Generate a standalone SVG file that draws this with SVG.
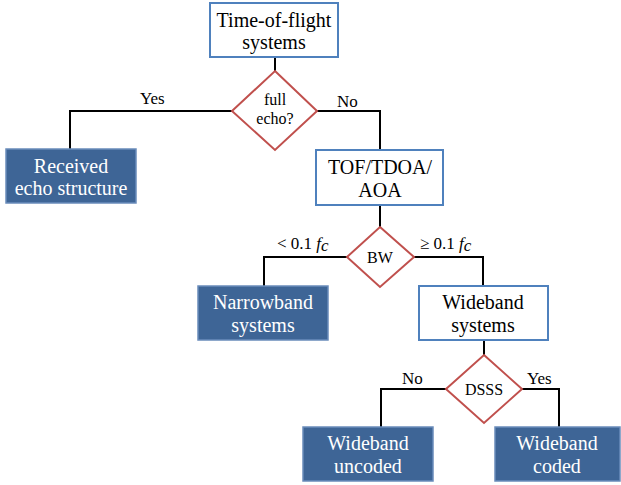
<svg xmlns="http://www.w3.org/2000/svg" width="621" height="485" viewBox="0 0 621 485">
<defs>
<style>
.bx{fill:#fff;stroke:#4F81BD;stroke-width:2}
.dk{fill:#3E6596;stroke:#6A8CBB;stroke-width:1.5}
.dm{fill:#fff;stroke:#C0504D;stroke-width:2}
.c{fill:none;stroke:#000;stroke-width:2}
</style>
</defs>
<rect width="621" height="485" fill="#fff"/>
<g id="connectors">
<path class="c" d="M275 57V71"/>
<path class="c" d="M232 111H70V149"/>
<path class="c" d="M317 111H380V150"/>
<path class="c" d="M380 205V227"/>
<path class="c" d="M347 257H264V286"/>
<path class="c" d="M414 257H483V286"/>
<path class="c" d="M484 340V355"/>
<path class="c" d="M446 389H381V427"/>
<path class="c" d="M522 389H559V427"/>
<text font-family="Liberation Serif" font-size="17" x="140" y="104">Yes</text>
<text font-family="Liberation Serif" font-size="17" x="337" y="107">No</text>
<text font-family="Liberation Serif" font-size="17" x="277" y="249">&lt; 0.1 <tspan font-style="italic">f</tspan><tspan font-style="italic" dy="2">c</tspan></text>
<text font-family="Liberation Serif" font-size="17" x="420" y="249">≥ 0.1 <tspan font-style="italic">f</tspan><tspan font-style="italic" dy="2">c</tspan></text>
<text font-family="Liberation Serif" font-size="17" x="402" y="384">No</text>
<text font-family="Liberation Serif" font-size="17" x="527" y="384">Yes</text>
</g>
<g id="tof-systems">
<rect class="bx" x="210" y="3" width="128" height="54"/>
<text font-family="Liberation Serif" font-size="20" text-anchor="middle" x="274" y="27">Time-of-flight</text>
<text font-family="Liberation Serif" font-size="20" text-anchor="middle" x="274" y="49">systems</text>
</g>
<g id="full-echo">
<polygon class="dm" points="275,71 317,111 275,150 232,111"/>
<text font-family="Liberation Serif" font-size="16" text-anchor="middle" x="275" y="105">full</text>
<text font-family="Liberation Serif" font-size="16" text-anchor="middle" x="275" y="124">echo?</text>
</g>
<g id="received-echo">
<rect class="dk" x="6" y="149" width="130" height="54"/>
<text font-family="Liberation Serif" font-size="20" text-anchor="middle" fill="#fff" x="71" y="173">Received</text>
<text font-family="Liberation Serif" font-size="20" text-anchor="middle" fill="#fff" x="71" y="195">echo structure</text>
</g>
<g id="tof-tdoa-aoa">
<rect class="bx" x="316" y="150" width="127" height="55"/>
<text font-family="Liberation Serif" font-size="20" text-anchor="middle" x="380" y="174">TOF/TDOA/</text>
<text font-family="Liberation Serif" font-size="20" text-anchor="middle" x="380" y="197">AOA</text>
</g>
<g id="bw">
<polygon class="dm" points="380,227 414,257 380,287 347,257"/>
<text font-family="Liberation Serif" font-size="16" text-anchor="middle" x="380" y="263">BW</text>
</g>
<g id="narrowband">
<rect class="dk" x="198" y="286" width="130" height="54"/>
<text font-family="Liberation Serif" font-size="20" text-anchor="middle" fill="#fff" x="263" y="309">Narrowband</text>
<text font-family="Liberation Serif" font-size="20" text-anchor="middle" fill="#fff" x="263" y="332">systems</text>
</g>
<g id="wideband-systems">
<rect class="bx" x="419" y="286" width="129" height="54"/>
<text font-family="Liberation Serif" font-size="20" text-anchor="middle" x="483" y="309">Wideband</text>
<text font-family="Liberation Serif" font-size="20" text-anchor="middle" x="483" y="332">systems</text>
</g>
<g id="dsss">
<polygon class="dm" points="484,355 522,389 484,423 446,389"/>
<text font-family="Liberation Serif" font-size="16" text-anchor="middle" x="484" y="395">DSSS</text>
</g>
<g id="wideband-uncoded">
<rect class="dk" x="303" y="427" width="130" height="54"/>
<text font-family="Liberation Serif" font-size="20" text-anchor="middle" fill="#fff" x="368" y="450">Wideband</text>
<text font-family="Liberation Serif" font-size="20" text-anchor="middle" fill="#fff" x="368" y="473">uncoded</text>
</g>
<g id="wideband-coded">
<rect class="dk" x="495" y="427" width="125" height="54"/>
<text font-family="Liberation Serif" font-size="20" text-anchor="middle" fill="#fff" x="557" y="450">Wideband</text>
<text font-family="Liberation Serif" font-size="20" text-anchor="middle" fill="#fff" x="557" y="473">coded</text>
</g>
</svg>
